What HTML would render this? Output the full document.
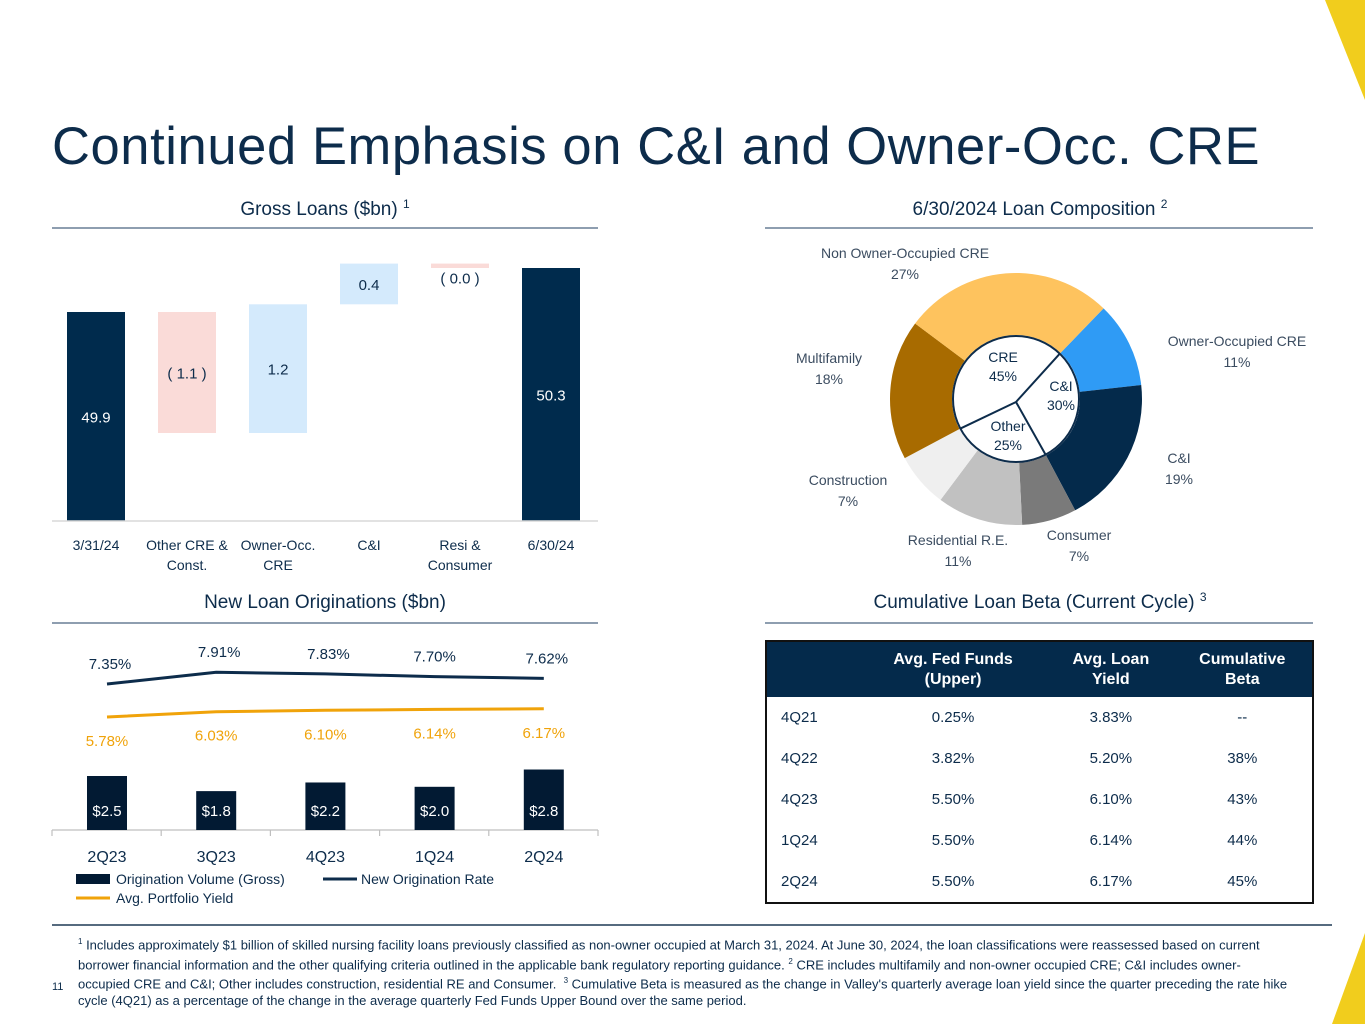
<!DOCTYPE html>
<html><head><meta charset="utf-8">
<style>
html,body{margin:0;padding:0;background:#fff;}
#root{position:relative;width:1365px;height:1024px;overflow:hidden;font-family:"Liberation Sans",sans-serif;color:#0d2c4b;}
svg text{font-family:"Liberation Sans",sans-serif;}
.title{position:absolute;left:52px;top:116px;font-size:52.5px;color:#0d2c4b;white-space:nowrap;letter-spacing:0.6px;}
table{position:absolute;left:765px;top:640px;width:549px;border-collapse:collapse;border:2px solid #111;font-size:15px;color:#0d2c4b;}
th{background:#042a4b;color:#fff;font-weight:bold;height:55px;line-height:20px;font-size:16px;padding:0;}
td{height:41px;text-align:center;padding:0;}
td:first-child{text-align:left;padding-left:14px;}
.foot{position:absolute;left:78px;top:934px;width:1210px;font-family:"Liberation Sans Narrow","Liberation Sans",sans-serif;font-size:13px;line-height:16.3px;color:#0d2c4b;}
.foot sup{font-size:8px;}
.pnum{position:absolute;left:52px;top:981px;font-size:11px;font-family:"Liberation Sans Narrow","Liberation Sans",sans-serif;color:#0d2c4b;}
</style></head>
<body>
<div id="root">
<div class="title">Continued Emphasis on C&amp;I and Owner-Occ. CRE</div>
<svg id="main" width="1365" height="1024" style="position:absolute;left:0;top:0">
  <polygon points="1325,0 1365,0 1365,100" fill="#f1cd1d"/>
  <polygon points="1365,933 1365,1024 1332,1024" fill="#f1cd1d"/>
  <text x="325" y="215" text-anchor="middle" font-size="19" fill="#0d2c4b">Gross Loans ($bn) <tspan font-size="12" dy="-7">1</tspan></text>
  <line x1="52" y1="228" x2="598" y2="228" stroke="#4a6580" stroke-width="1.2"/>
  <text x="1040" y="215" text-anchor="middle" font-size="19" fill="#0d2c4b">6/30/2024 Loan Composition <tspan font-size="12" dy="-7">2</tspan></text>
  <line x1="765" y1="228" x2="1313" y2="228" stroke="#4a6580" stroke-width="1.2"/>
  <text x="325" y="608" text-anchor="middle" font-size="19" fill="#0d2c4b">New Loan Originations ($bn)</text>
  <line x1="52" y1="623" x2="598" y2="623" stroke="#4a6580" stroke-width="1.2"/>
  <text x="1040" y="608" text-anchor="middle" font-size="19" fill="#0d2c4b">Cumulative Loan Beta (Current Cycle) <tspan font-size="12" dy="-7">3</tspan></text>
  <line x1="765" y1="623" x2="1313" y2="623" stroke="#4a6580" stroke-width="1.2"/>
  <line x1="52" y1="925" x2="1332" y2="925" stroke="#1f3a55" stroke-width="1.5"/>
  <g id="wf"></g><g id="donut"></g><g id="orig"></g>
</svg>
<table>
<tr><th style="width:90px"></th><th>Avg. Fed Funds<br>(Upper)</th><th>Avg. Loan<br>Yield</th><th>Cumulative<br>Beta</th></tr>
<tr><td>4Q21</td><td>0.25%</td><td>3.83%</td><td>--</td></tr>
<tr><td>4Q22</td><td>3.82%</td><td>5.20%</td><td>38%</td></tr>
<tr><td>4Q23</td><td>5.50%</td><td>6.10%</td><td>43%</td></tr>
<tr><td>1Q24</td><td>5.50%</td><td>6.14%</td><td>44%</td></tr>
<tr><td>2Q24</td><td>5.50%</td><td>6.17%</td><td>45%</td></tr>
</table>
<div class="foot"><sup>1</sup> Includes approximately $1 billion of skilled nursing facility loans previously classified as non-owner occupied at March 31, 2024. At June 30, 2024, the loan classifications were reassessed based on current borrower financial information and the other qualifying criteria outlined in the applicable bank regulatory reporting guidance. <sup>2</sup> CRE includes multifamily and non-owner occupied CRE; C&amp;I includes owner-occupied CRE and C&amp;I; Other includes construction, residential RE and Consumer. &nbsp;<sup>3</sup> Cumulative Beta is measured as the change in Valley's quarterly average loan yield since the quarter preceding the rate hike cycle (4Q21) as a percentage of the change in the average quarterly Fed Funds Upper Bound over the same period.</div>
<div class="pnum">11</div>
</div>
<script>
// Waterfall data
const wfCategories = [["3/31/24"],["Other CRE &","Const."],["Owner-Occ.","CRE"],["C&I"],["Resi &","Consumer"],["6/30/24"]];
const wfValues = [49.9, -1.1, 1.17, 0.37, -0.04, 50.3];
const wfLabels = ["49.9","( 1.1 )","1.2","0.4","( 0.0 )","50.3"];
// Donut data
const donutNames = ["Owner-Occupied CRE","C&I","Consumer","Residential R.E.","Construction","Multifamily","Non Owner-Occupied CRE"];
const donutValues = [11,19,7,11,7,18,27];
const innerNames = ["C&I","Other","CRE"];
const innerValues = [30,25,45];
// Originations data
const origCategories = ["2Q23","3Q23","4Q23","1Q24","2Q24"];
const origVolume = [2.5,1.8,2.2,2.0,2.8];
const origRate = [7.35,7.91,7.83,7.70,7.62];
const portYield = [5.78,6.03,6.10,6.14,6.17];

const NS="http://www.w3.org/2000/svg";
function mk(parent,tag,attrs,text){const e=document.createElementNS(NS,tag);for(const k in attrs)e.setAttribute(k,attrs[k]);if(text!==undefined)e.textContent=text;parent.appendChild(e);return e;}

// ---- Waterfall
(function(){
  const g=document.getElementById('wf');
  const base=521, yMin=48, sc=110;
  const y=v=>base-(v-yMin)*sc;
  const x=i=>96+i*91;
  const bw=58;
  let cum=0;
  wfValues.forEach((v,i)=>{
    let top,bot,fill,tc;
    const last=i===wfValues.length-1;
    if(i===0||last){cum=v;top=y(v);bot=base;fill="#002b4d";tc="#fff";}
    else{const s=cum;cum+=v;top=y(Math.max(s,cum));bot=y(Math.min(s,cum));fill=v<0?"#fadbd8":"#d4eafc";tc="#0d2c4b";}
    const r=mk(g,'rect',{x:x(i)-bw/2,y:top,width:bw,height:Math.max(bot-top,4),fill:fill});
    
    
    let ly=(top+bot)/2+6;
    if(bot-top<10) ly=top+20;
    const t=mk(g,'text',{x:x(i),y:ly,'text-anchor':'middle','font-size':15,fill:tc},wfLabels[i]);
    
    
    wfCategories[i].forEach((ln,j)=>{
      const c=mk(g,'text',{x:x(i),y:550+j*20,'text-anchor':'middle','font-size':14,fill:'#0d2c4b'},ln);
      
      
    });
  });
  const a=mk(g,'line',{x1:52,y1:base,x2:598,y2:base,stroke:'#d9d9d9','stroke-width':1.5});
  
  
})();

// ---- Donut
(function(){
  const g=document.getElementById('donut');
  const cx=1016,cy=399,R=126,r0=64;
  const colors=["#2f9bf5","#042a4b","#7a7a7a","#c1c1c1","#efefef","#a86b00","#fec35e"];
  const pos=[[1237,346],[1179,463],[1079,540],[958,545],[848,485],[829,363],[905,258]];
  const pt=(a,rad)=>[cx+rad*Math.sin(a*Math.PI/180),cy-rad*Math.cos(a*Math.PI/180)];
  const tot=donutValues.reduce((a,b)=>a+b,0);
  let a0=44;
  donutValues.forEach((v,i)=>{
    const a1=a0+v/tot*360;
    const [x0,y0]=pt(a0,R),[x1,y1]=pt(a1,R),[x2,y2]=pt(a1,r0),[x3,y3]=pt(a0,r0);
    const lg=(a1-a0)>180?1:0;
    const p=mk(g,'path',{d:`M${x0},${y0}A${R},${R} 0 ${lg} 1 ${x1},${y1}L${x2},${y2}A${r0},${r0} 0 ${lg} 0 ${x3},${y3}Z`,fill:colors[i]});
    
    
    const [lx,ly]=pos[i];
    const t1=mk(g,'text',{x:lx,y:ly,'text-anchor':'middle','font-size':14,fill:'#3b4c60'},donutNames[i]);
    
    
    const t2=mk(g,'text',{x:lx,y:ly+21,'text-anchor':'middle','font-size':14,fill:'#3b4c60'},v+'%');
    
    
    a0=a1;
  });
  const c=mk(g,'circle',{cx:cx,cy:cy,r:r0-1,fill:'#fff',stroke:'#0d2c4b','stroke-width':2});
  
  
  const itot=innerValues.reduce((a,b)=>a+b,0);
  const ipos=[[1061,391],[1008,431],[1003,362]];
  let b=44;
  innerValues.forEach((v,i)=>{
    const [ex,ey]=pt(b,r0-1);
    const l=mk(g,'line',{x1:cx,y1:cy+3,x2:ex,y2:ey,stroke:'#0d2c4b','stroke-width':2});
    
    
    b+=v/itot*360;
    const t=mk(g,'text',{x:ipos[i][0],y:ipos[i][1],'text-anchor':'middle','font-size':14,fill:'#0d2c4b'},innerNames[i]);
    
    
    const t2=mk(g,'text',{x:ipos[i][0],y:ipos[i][1]+19,'text-anchor':'middle','font-size':14,fill:'#0d2c4b'},v+'%');
    
    
  });
})();

// ---- Originations
(function(){
  const g=document.getElementById('orig');
  const base=830, step=109.2, x=i=>107+i*step;
  const yb=v=>base-v*21.6;
  const yl=v=>684-(v-7.35)*21;
  const ax=mk(g,'line',{x1:52,y1:base,x2:598,y2:base,stroke:'#bfbfbf','stroke-width':1.2});
  
  
  for(let k=0;k<=origCategories.length;k++){
    const tk=mk(g,'line',{x1:52+k*step,y1:base,x2:52+k*step,y2:base+6,stroke:'#bfbfbf','stroke-width':1.2});
    
    
  }
  origVolume.forEach((v,i)=>{
    const r=mk(g,'rect',{x:x(i)-20,y:yb(v),width:40,height:base-yb(v),fill:'#021a33'});
    
    
    const t=mk(g,'text',{x:x(i),y:816,'text-anchor':'middle','font-size':15,fill:'#fff'},'$'+v.toFixed(1));
    
    
    const c=mk(g,'text',{x:x(i),y:862,'text-anchor':'middle','font-size':16,fill:'#0d2c4b'},origCategories[i]);
    
    
  });
  const rp=mk(g,'polyline',{points:origRate.map((v,i)=>x(i)+','+yl(v)).join(' '),fill:'none',stroke:'#0d2c4b','stroke-width':3});
  
  
  const yp=mk(g,'polyline',{points:portYield.map((v,i)=>x(i)+','+yl(v)).join(' '),fill:'none',stroke:'#f0a30a','stroke-width':3});
  
  
  origRate.forEach((v,i)=>{
    const t=mk(g,'text',{x:x(i)+(i===3?0:3),y:yl(v)-15,'text-anchor':'middle','font-size':15,fill:'#0d2c4b'},v.toFixed(2)+'%');
    
    
  });
  portYield.forEach((v,i)=>{
    const t=mk(g,'text',{x:x(i),y:yl(v)+29,'text-anchor':'middle','font-size':15,fill:'#f0a30a'},v.toFixed(2)+'%');
    
    
  });
  const l1=mk(g,'rect',{x:76,y:874,width:34,height:10,fill:'#021a33'});
  
  
  const t1=mk(g,'text',{x:116,y:884,'font-size':14,fill:'#0d2c4b'},'Origination Volume (Gross)');
  
  
  const l2=mk(g,'line',{x1:323,y1:879,x2:357,y2:879,stroke:'#0d2c4b','stroke-width':3});
  
  
  const t2=mk(g,'text',{x:361,y:884,'font-size':14,fill:'#0d2c4b'},'New Origination Rate');
  
  
  const l3=mk(g,'line',{x1:76,y1:898,x2:110,y2:898,stroke:'#f0a30a','stroke-width':3});
  
  
  const t3=mk(g,'text',{x:116,y:903,'font-size':14,fill:'#0d2c4b'},'Avg. Portfolio Yield');
  
  
})();
</script>
</body></html>
